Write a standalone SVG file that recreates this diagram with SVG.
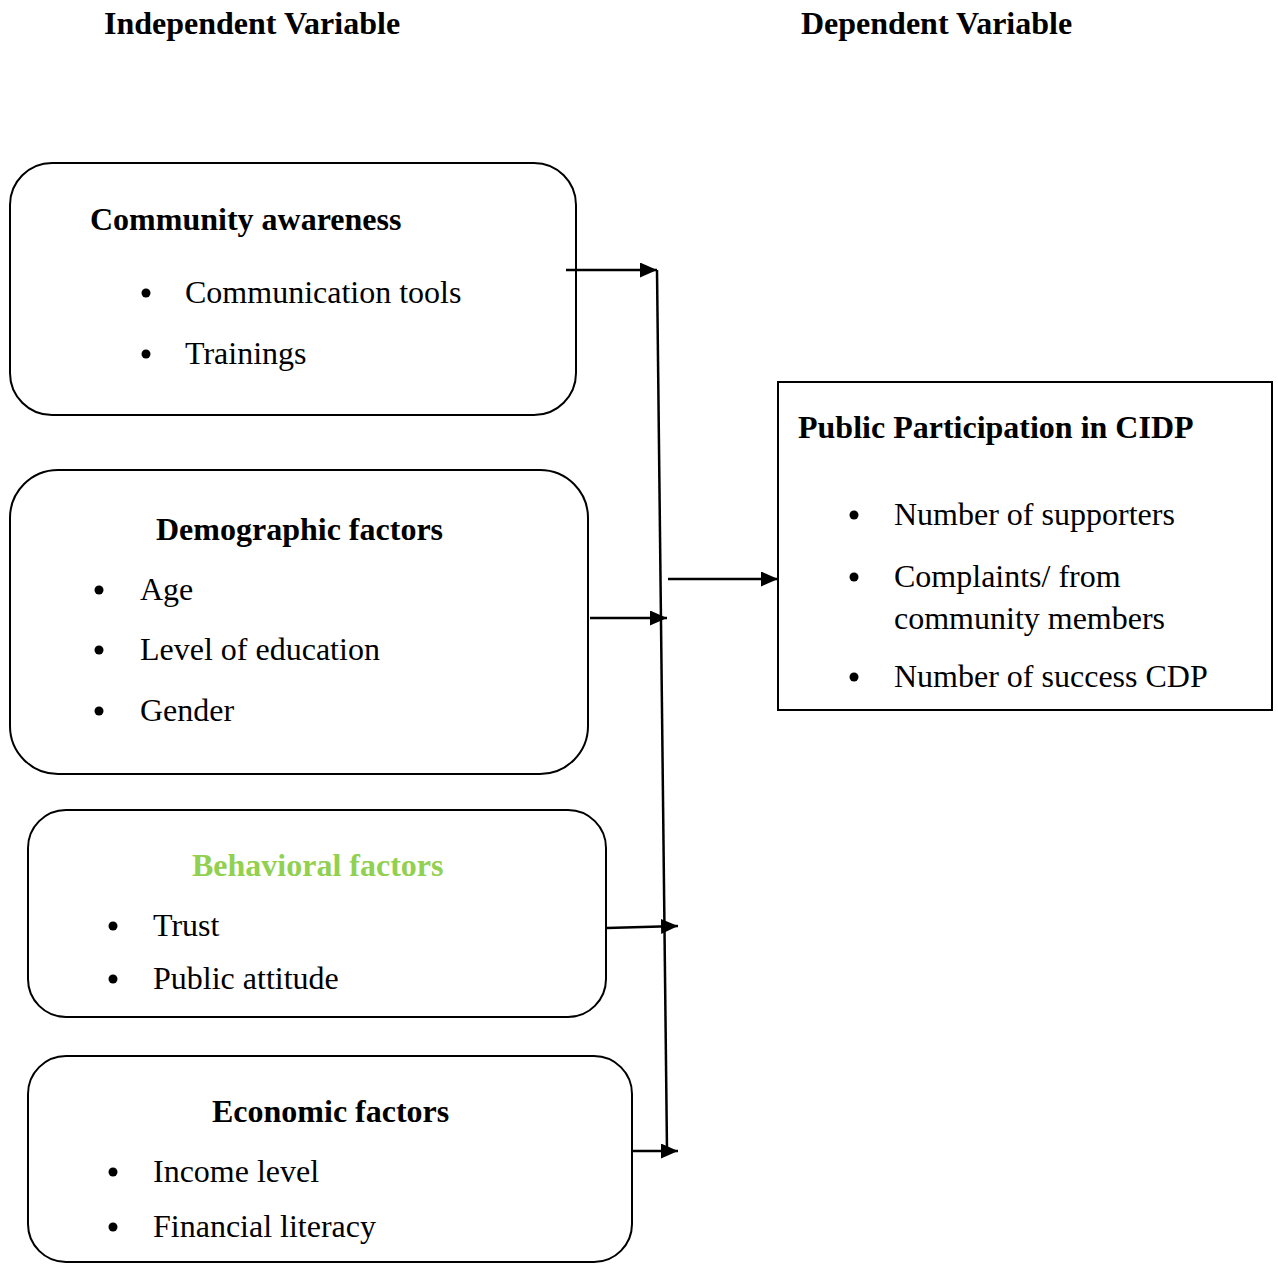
<svg xmlns="http://www.w3.org/2000/svg" width="1278" height="1264" viewBox="0 0 1278 1264">
<style>
.b{font-family:"Liberation Serif","Times New Roman",serif;font-weight:bold;font-size:32px;fill:#000}
.t{font-family:"Liberation Serif","Times New Roman",serif;font-size:32px;fill:#000}
.box{fill:#fff;stroke:#000;stroke-width:2}
.ln{stroke:#000;stroke-width:2.5;fill:none}
.dot{fill:#000}
</style>
<defs>
<marker id="a" viewBox="0 0 17 15" refX="17" refY="7.5" markerWidth="17" markerHeight="15" orient="auto" markerUnits="userSpaceOnUse"><path d="M0,0 L17,7.5 L0,15 z" fill="#000"/></marker>
</defs>
<rect width="1278" height="1264" fill="#fff"/>
<text class="b" x="104" y="34">Independent Variable</text>
<text class="b" x="801" y="34">Dependent Variable</text>

<g id="community">
<rect class="box" x="10" y="163" width="566" height="252" rx="42"/>
<text class="b" x="90" y="230">Community awareness</text>
<circle class="dot" cx="146" cy="293" r="4.5"/>
<text class="t" x="185" y="303">Communication tools</text>
<circle class="dot" cx="146" cy="354" r="4.5"/>
<text class="t" x="185" y="364">Trainings</text>
</g>

<g id="demographic">
<rect class="box" x="10" y="470" width="578" height="304" rx="48"/>
<text class="b" x="156" y="540">Demographic factors</text>
<circle class="dot" cx="99" cy="590" r="4.5"/>
<text class="t" x="140" y="600">Age</text>
<circle class="dot" cx="99" cy="650" r="4.5"/>
<text class="t" x="140" y="660">Level of education</text>
<circle class="dot" cx="99" cy="711" r="4.5"/>
<text class="t" x="140" y="721">Gender</text>
</g>

<g id="behavioral">
<rect class="box" x="28" y="810" width="578" height="207" rx="38"/>
<text class="b" x="192" y="876" style="fill:#92D050">Behavioral factors</text>
<circle class="dot" cx="113" cy="926" r="4.5"/>
<text class="t" x="153" y="936">Trust</text>
<circle class="dot" cx="113" cy="979" r="4.5"/>
<text class="t" x="153" y="989">Public attitude</text>
</g>

<g id="economic">
<rect class="box" x="28" y="1056" width="604" height="206" rx="38"/>
<text class="b" x="212" y="1122">Economic factors</text>
<circle class="dot" cx="113" cy="1172" r="4.5"/>
<text class="t" x="153" y="1182">Income level</text>
<circle class="dot" cx="113" cy="1227" r="4.5"/>
<text class="t" x="153" y="1237">Financial literacy</text>
</g>

<g id="participation">
<rect class="box" x="778" y="382" width="494" height="328"/>
<text class="b" x="798" y="438">Public Participation in CIDP</text>
<circle class="dot" cx="854" cy="515" r="4.5"/>
<text class="t" x="894" y="525">Number of supporters</text>
<circle class="dot" cx="854" cy="577" r="4.5"/>
<text class="t" x="894" y="587">Complaints/ from</text>
<text class="t" x="894" y="629">community members</text>
<circle class="dot" cx="854" cy="677" r="4.5"/>
<text class="t" x="894" y="687">Number of success CDP</text>
</g>

<g id="connectors">
<line class="ln" x1="657" y1="270" x2="667" y2="1151"/>
<line class="ln" x1="566" y1="270" x2="657" y2="270" marker-end="url(#a)"/>
<line class="ln" x1="590" y1="618" x2="667" y2="618" marker-end="url(#a)"/>
<line class="ln" x1="607" y1="928" x2="678" y2="926" marker-end="url(#a)"/>
<line class="ln" x1="633" y1="1151" x2="678" y2="1151" marker-end="url(#a)"/>
<line class="ln" x1="668" y1="579" x2="778" y2="579" marker-end="url(#a)"/>
</g>
</svg>
